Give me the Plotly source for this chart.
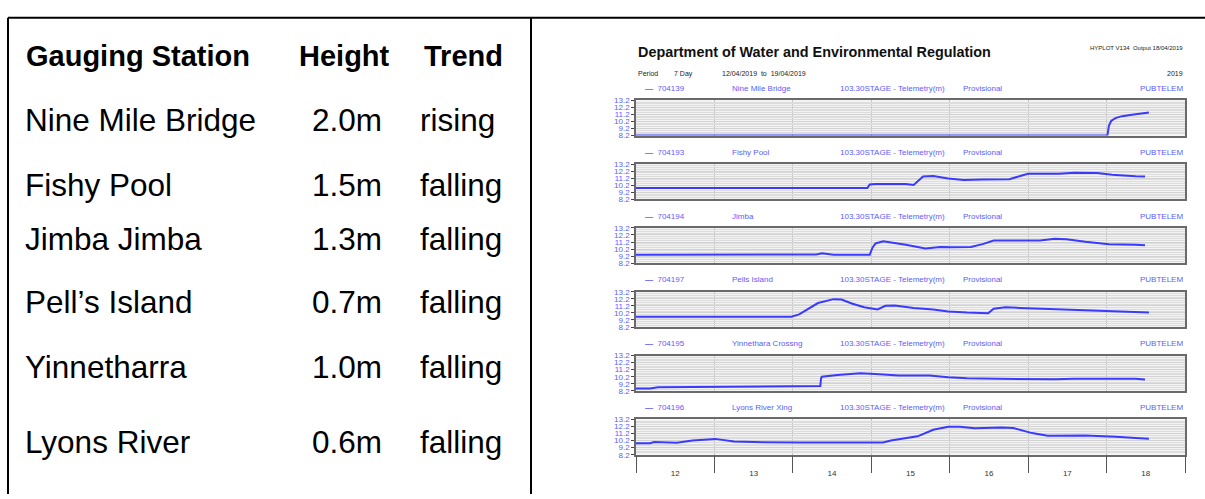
import plotly.graph_objects as go

# ---------------- table data ----------------
stations = ["Nine Mile Bridge", "Fishy Pool", "Jimba Jimba", "Pell\u2019s Island", "Yinnetharra", "Lyons River"]
heights = ["2.0m", "1.5m", "1.3m", "0.7m", "1.0m", "0.6m"]
trends = ["rising", "falling", "falling", "falling", "falling", "falling"]

# ---------------- hydrograph data ----------------
site_ids = ["704139", "704193", "704194", "704197", "704195", "704196"]
site_names = ["Nine Mile Bridge", "Fishy Pool", "Jimba", "Pells Island", "Yinnethara Crossng", "Lyons River Xing"]
variable_label = "103.30STAGE - Telemetry(m)"
quality_label = "Provisional"
source_label = "PUBTELEM"
day_labels = ["12", "13", "14", "15", "16", "17", "18"]
y_ticks = [8.2, 9.2, 10.2, 11.2, 12.2, 13.2]

nine_x = [12.0, 18.01, 18.03, 18.06, 18.12, 18.2, 18.3, 18.4, 18.54]
nine_y = [8.2, 8.2, 9.6, 10.3, 10.7, 10.95, 11.1, 11.25, 11.45]

fishy_x = [12.0, 12.3, 12.6, 13.5, 14.0, 14.95, 14.98, 15.05, 15.44, 15.54, 15.66, 15.79,
           15.98, 16.18, 16.42, 16.76, 16.91, 17.0, 17.39, 17.59, 17.88, 18.07, 18.37, 18.49]
fishy_y = [9.8, 9.78, 9.8, 9.8, 9.8, 9.8, 10.3, 10.38, 10.38, 10.25, 11.45, 11.5,
           11.15, 10.95, 11.0, 11.05, 11.55, 11.84, 11.84, 11.97, 11.95, 11.7, 11.47, 11.43]

jimba_x = [12.0, 13.75, 13.8, 13.98, 14.0, 14.3, 14.37, 14.52, 14.98, 15.015, 15.054, 15.152,
           15.44, 15.69, 15.88, 16.03, 16.27, 16.42, 16.56, 16.9, 17.15, 17.34, 17.49, 17.73,
           18.03, 18.37, 18.49]
jimba_y = [9.4, 9.4, 9.5, 9.5, 9.4, 9.45, 9.6, 9.4, 9.4, 10.4, 11.0, 11.3,
           10.8, 10.3, 10.5, 10.45, 10.5, 10.9, 11.4, 11.4, 11.42, 11.65, 11.6, 11.25,
           10.9, 10.8, 10.75]

pells_x = [12.0, 13.98, 14.08, 14.18, 14.32, 14.52, 14.62, 14.76, 14.91, 15.08, 15.18, 15.3,
           15.54, 15.79, 15.98, 16.22, 16.42, 16.49, 16.56, 16.71, 16.9, 17.39, 17.88, 18.37, 18.54]
pells_y = [9.65, 9.65, 10.0, 10.7, 11.6, 12.15, 12.1, 11.5, 11.0, 10.7, 11.2, 11.25,
           10.9, 10.7, 10.4, 10.25, 10.15, 10.15, 10.8, 11.0, 10.9, 10.7, 10.5, 10.35, 10.25]

yinne_x = [12.0, 12.18, 12.28, 13.93, 14.35, 14.36, 14.37, 14.57, 14.86, 15.05, 15.35, 15.74,
           15.98, 16.22, 16.61, 17.34, 17.59, 18.37, 18.49]
yinne_y = [8.55, 8.55, 8.72, 8.8, 8.9, 10.0, 10.2, 10.46, 10.7, 10.6, 10.37, 10.37,
           10.13, 10.0, 9.9, 9.85, 9.9, 9.9, 9.8]

lyons_x = [12.0, 12.18, 12.23, 12.47, 12.52, 12.72, 13.01, 13.25, 13.5, 14.08, 15.15, 15.25,
           15.59, 15.79, 15.98, 16.13, 16.32, 16.66, 16.81, 17.05, 17.25, 17.73, 17.88, 18.12,
           18.37, 18.54]
lyons_y = [9.82, 9.82, 9.99, 9.99, 9.9, 10.2, 10.44, 10.07, 9.99, 9.92, 9.92, 10.2,
           10.8, 11.73, 12.14, 12.14, 11.96, 12.05, 11.98, 11.26, 10.89, 10.92, 10.88, 10.75,
           10.56, 10.47]

series_x = [nine_x, fishy_x, jimba_x, pells_x, yinne_x, lyons_x]
series_y = [nine_y, fishy_y, jimba_y, pells_y, yinne_y, lyons_y]

# ---------------- layout helpers ----------------
W, H = 1205, 499
def px(p):
    return p / W
def py(p):
    return 1 - p / H

LINE_BLUE = "#3a3aff"
LABEL_BLUE = "#5c5cff"
FONT = "Liberation Sans, Arial, sans-serif"

fig = go.Figure()
annotations = []
shapes = []

plot_left, plot_right = 636, 1185
panel_top0, panel_step, panel_h = 98, 65, 36

layout_axes = {}
for i in range(6):
    top = panel_top0 + panel_step * i
    bottom = top + panel_h
    suffix = "" if i == 0 else str(i + 1)
    xa = "x" + suffix
    ya = "y" + suffix
    fig.add_trace(go.Scatter(x=series_x[i], y=series_y[i], mode="lines",
                             line=dict(color=LINE_BLUE, width=2),
                             xaxis=xa, yaxis=ya, showlegend=False,
                             hoverinfo="skip"))
    last = (i == 5)
    layout_axes["xaxis" + suffix] = dict(
        domain=[px(plot_left), px(plot_right)], anchor=ya, range=[12, 19],
        tickmode="array", tickvals=[12.5 + k for k in range(7)], ticktext=day_labels,
        showticklabels=last, ticks="outside" if last else "", ticklen=10,
        tickcolor="rgba(0,0,0,0)",
        tickfont=dict(family=FONT, size=8, color="#333333"),
        showgrid=False, zeroline=False,
        minor=dict(tickmode="linear", tick0=12, dtick=1, showgrid=True,
                   gridcolor="#c4c4c4", gridwidth=1,
                   ticks="outside" if last else "", ticklen=17,
                   tickcolor="#555555", tickwidth=1),
        showline=True, mirror=True, linecolor="#6a6a6a", linewidth=1.5,
        fixedrange=True,
    )
    layout_axes["yaxis" + suffix] = dict(
        domain=[py(bottom), py(top)], anchor=xa, range=[8.2, 13.2],
        tickmode="array", tickvals=y_ticks, ticktext=[f"{v:.1f}" for v in y_ticks],
        ticks="outside", ticklen=3, tickcolor="#444444", tickwidth=1,
        tickfont=dict(family=FONT, size=8, color=LABEL_BLUE),
        showgrid=True, gridcolor="#d2d2d2", gridwidth=1, zeroline=False,
        minor=dict(tickmode="linear", tick0=8.2, dtick=0.25, showgrid=True,
                   gridcolor="#dddddd", gridwidth=1),
        showline=True, mirror=True, linecolor="#6a6a6a", linewidth=1.5,
        fixedrange=True,
    )
    hy = py(top - 12)
    hdr_font = dict(family=FONT, size=8, color=LABEL_BLUE)
    annotations += [
        dict(text="<b>\u2014</b>  " + site_ids[i], x=px(643), y=hy, xanchor="left", yanchor="middle",
             showarrow=False, font=hdr_font, xref="paper", yref="paper"),
        dict(text=site_names[i], x=px(730), y=hy, xanchor="left", yanchor="middle",
             showarrow=False, font=hdr_font, xref="paper", yref="paper"),
        dict(text=variable_label, x=px(838), y=hy, xanchor="left", yanchor="middle",
             showarrow=False, font=hdr_font, xref="paper", yref="paper"),
        dict(text=quality_label, x=px(961), y=hy, xanchor="left", yanchor="middle",
             showarrow=False, font=hdr_font, xref="paper", yref="paper"),
        dict(text=source_label, x=px(1185), y=hy, xanchor="right", yanchor="middle",
             showarrow=False, font=hdr_font, xref="paper", yref="paper"),
    ]

# chart header texts
dark = "#222222"
annotations += [
    dict(text="<b>Department of Water and Environmental Regulation</b>", x=px(636), y=py(49),
         xanchor="left", yanchor="middle", showarrow=False,
         font=dict(family=FONT, size=14.4, color="#111111"), xref="paper", yref="paper"),
    dict(text="HYPLOT V134  Output 18/04/2019", x=px(1185), y=py(45),
         xanchor="right", yanchor="middle", showarrow=False,
         font=dict(family=FONT, size=6, color=dark), xref="paper", yref="paper"),
    dict(text="Period", x=px(636), y=py(71), xanchor="left", yanchor="middle", showarrow=False,
         font=dict(family=FONT, size=7, color=dark), xref="paper", yref="paper"),
    dict(text="7 Day", x=px(672), y=py(71), xanchor="left", yanchor="middle", showarrow=False,
         font=dict(family=FONT, size=7, color=dark), xref="paper", yref="paper"),
    dict(text="12/04/2019  to  19/04/2019", x=px(720), y=py(71), xanchor="left", yanchor="middle",
         showarrow=False, font=dict(family=FONT, size=7, color=dark), xref="paper", yref="paper"),
    dict(text="2019", x=px(1185), y=py(71), xanchor="right", yanchor="middle", showarrow=False,
         font=dict(family=FONT, size=7, color=dark), xref="paper", yref="paper"),
]

# table texts
hdr = dict(family=FONT, size=29, color="#000000")
row = dict(family=FONT, size=31.5, color="#000000")
annotations += [
    dict(text="<b>Gauging Station</b>", x=px(24), y=py(53), xanchor="left", yanchor="middle",
         showarrow=False, font=hdr, xref="paper", yref="paper"),
    dict(text="<b>Height</b>", x=px(344), y=py(53), xanchor="center", yanchor="middle",
         showarrow=False, font=hdr, xref="paper", yref="paper"),
    dict(text="<b>Trend</b>", x=px(463), y=py(53), xanchor="center", yanchor="middle",
         showarrow=False, font=hdr, xref="paper", yref="paper"),
]
row_y = [118, 184, 239, 303, 370, 446]
for s, h, t, yy in zip(stations, heights, trends, row_y):
    annotations += [
        dict(text=s, x=px(23), y=py(yy), xanchor="left", yanchor="middle", showarrow=False,
             font=row, xref="paper", yref="paper"),
        dict(text=h, x=px(347), y=py(yy), xanchor="center", yanchor="middle", showarrow=False,
             font=row, xref="paper", yref="paper"),
        dict(text=t, x=px(418), y=py(yy), xanchor="left", yanchor="middle", showarrow=False,
             font=row, xref="paper", yref="paper"),
    ]

# table frame lines
frame = dict(color="#000000", width=2)
shapes += [
    dict(type="line", xref="paper", yref="paper", x0=px(8), x1=1, y0=py(14), y1=py(14), line=frame),
    dict(type="line", xref="paper", yref="paper", x0=px(8), x1=px(8), y0=py(14), y1=0, line=frame),
    dict(type="line", xref="paper", yref="paper", x0=px(531), x1=px(531), y0=py(14), y1=0, line=frame),
]

fig.update_layout(
    width=W, height=H, margin=dict(l=0, r=0, t=0, b=0),
    paper_bgcolor="white", plot_bgcolor="#f3f3f3",
    annotations=annotations, shapes=shapes, showlegend=False,
    **layout_axes,
)

fig.write_html("out.html", config={"displayModeBar": False},
               post_script="document.body.style.margin='0px';document.body.style.overflow='hidden';")
